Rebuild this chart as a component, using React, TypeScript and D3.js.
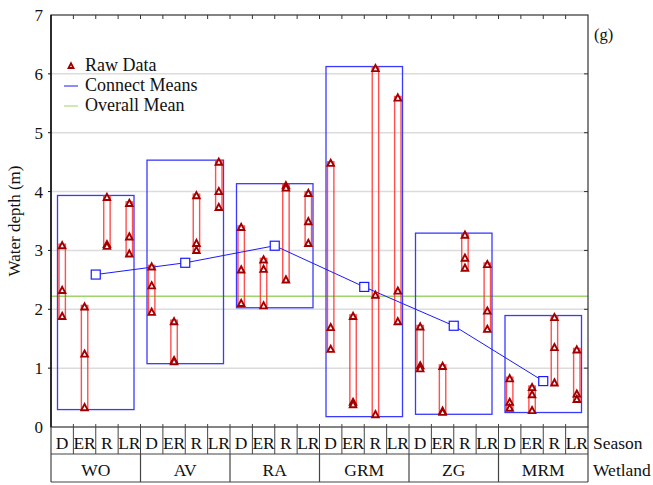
import React from "react";
import * as d3 from "d3";

const wetlands = ["WO", "AV", "RA", "GRM", "ZG", "MRM"];
const seasons = ["D", "ER", "R", "LR"];
// raw data per wetland, per season (3 values each)
const dataWO = [[3.08, 2.32, 1.88], [2.04, 1.24, 0.33], [3.9, 3.1, 3.07], [3.8, 3.23, 2.94]];
const dataAV = [[2.72, 2.4, 1.95], [1.79, 1.13, 1.11], [3.93, 3.12, 3.0], [4.5, 4.0, 3.73]];
const dataRA = [[3.39, 2.67, 2.1], [2.84, 2.68, 2.06], [4.1, 4.06, 2.5], [3.97, 3.49, 3.12]];
const dataGRM = [[4.48, 1.69, 1.32], [1.88, 0.42, 0.38], [6.09, 2.24, 0.21], [5.59, 2.31, 1.79]];
const dataZG = [[1.7, 1.04, 0.99], [1.03, 0.27, 0.25], [3.26, 2.87, 2.7], [2.76, 1.97, 1.66]];
const dataMRM = [[0.82, 0.42, 0.32], [0.67, 0.55, 0.28], [1.86, 1.35, 0.75], [1.31, 0.56, 0.47]];
const groupMeans = [2.59, 2.79, 3.08, 2.38, 1.72, 0.78];
const overallMean = 2.22;
const yTicks = [0, 1, 2, 3, 4, 5, 6, 7];

const allData = [dataWO, dataAV, dataRA, dataGRM, dataZG, dataMRM];

export default function App() {
  const W = 653, H = 485;
  const left = 51, right = 588, top = 15, bottom = 427;
  const y = d3.scaleLinear().domain([0, 7]).range([bottom, top]);
  const cols = wetlands.flatMap((w) => seasons.map((s) => `${w}-${s}`));
  const x = d3.scaleBand().domain(cols).range([left, right]).paddingInner(0).paddingOuter(0);
  const gx = d3.scaleBand().domain(wetlands).range([left, right]);
  const bw = x.bandwidth();
  const font = "Liberation Serif, Times New Roman, Times, DejaVu Serif, serif";
  const line = d3.line<[number, number]>().x((d) => d[0]).y((d) => d[1]);
  const meanPts: [number, number][] = wetlands.map((w, i) => [gx(w)! + gx.bandwidth() / 2, y(groupMeans[i])]);
  const tri = (cx: number, cy: number, s: number) =>
    `M${cx},${cy - s * 0.55}L${cx + s * 0.5},${cy + s * 0.4}L${cx - s * 0.5},${cy + s * 0.4}Z`;
  const txt = { fontFamily: font, fill: "#111" };

  return (
    <svg width={W} height={H} style={{ display: "block", position: "absolute", left: 0, top: 0, fontFamily: font }}>
      <rect x={0} y={0} width={W} height={H} fill="#fff" />
      {/* grid */}
      {yTicks.filter((t) => t > 0 && t < 7).map((t) => (
        <line key={t} x1={left} x2={right} y1={y(t)} y2={y(t)} stroke="#dcdcdc" strokeWidth={1.5} />
      ))}
      {/* overall mean */}
      <line x1={left} x2={right} y1={y(overallMean)} y2={y(overallMean)} stroke="#9fd36b" strokeWidth={1.5} />
      {/* group boxes */}
      {wetlands.map((w, i) => {
        const vals = allData[i].flat();
        const [mn, mx] = d3.extent(vals) as [number, number];
        const x0 = gx(w)! + 6.5;
        const x1 = gx(w)! + gx.bandwidth() - 6.5;
        return (
          <rect key={w} x={x0} y={y(mx) - 2} width={x1 - x0} height={y(mn) - y(mx) + 4}
            fill="none" stroke="#3a3aff" strokeWidth={1.3} />
        );
      })}
      {/* season rects */}
      {wetlands.map((w, i) =>
        seasons.map((s, j) => {
          const vals = allData[i][j];
          const [mn, mx] = d3.extent(vals) as [number, number];
          const cx = x(`${w}-${s}`)! + bw / 2;
          return (
            <rect key={`${w}-${s}`} x={cx - 3.2} y={y(mx) - 1.5} width={6.4} height={y(mn) - y(mx) + 3}
              fill="none" stroke="#ff3030" strokeWidth={1.4} strokeOpacity={0.85} />
          );
        })
      )}
      {/* mean line */}
      <path d={line(meanPts)!} fill="none" stroke="#1a1aff" strokeWidth={1} />
      {meanPts.map((p, i) => (
        <rect key={i} x={p[0] - 4.5} y={p[1] - 4.5} width={9} height={9} fill="#fff" stroke="#1a1aff" strokeWidth={1.2} />
      ))}
      {/* raw points */}
      {wetlands.map((w, i) =>
        seasons.map((s, j) =>
          allData[i][j].map((v, k) => {
            const cx = x(`${w}-${s}`)! + bw / 2;
            return (
              <path key={`${w}-${s}-${k}`} d={tri(cx, y(v), 6.5)} fill="#fff" stroke="#a00000" strokeWidth={1.9} strokeLinejoin="miter" />
            );
          })
        )
      )}
      {/* frame */}
      <rect x={left} y={top} width={right - left} height={bottom - top} fill="none" stroke="#333" strokeWidth={1.2} />
      <line x1={left} x2={left} y1={top} y2={bottom} stroke="#111" strokeWidth={1.5} />
      {/* top ticks */}
      {cols.slice(1).map((c) => (
        <line key={c} x1={x(c)} x2={x(c)} y1={top} y2={top + 4} stroke="#333" strokeWidth={1} />
      ))}
      {/* right & left ticks */}
      {yTicks.filter((t) => t > 0 && t < 7).map((t) => (
        <g key={t}>
          <line x1={right - 4} x2={right} y1={y(t)} y2={y(t)} stroke="#333" strokeWidth={1} />
          <line x1={left - 3} x2={left} y1={y(t)} y2={y(t)} stroke="#111" strokeWidth={1} />
        </g>
      ))}
      {/* y tick labels */}
      {yTicks.map((t) => (
        <text key={t} x={43} y={y(t)} dy="0.35em" textAnchor="end" fontSize={17} style={txt}>{t}</text>
      ))}
      <text transform={`translate(20,${(top + bottom) / 2}) rotate(-90)`} textAnchor="middle" fontSize={17} style={txt}>
        Water depth (m)
      </text>
      <text x={594} y={40} fontSize={16.5} style={txt}>(g)</text>
      {/* table */}
      <line x1={left} x2={right} y1={454} y2={454} stroke="#444" strokeWidth={1.2} />
      <line x1={left} x2={right} y1={482} y2={482} stroke="#444" strokeWidth={1.2} />
      <line x1={left} x2={left} y1={bottom} y2={482} stroke="#444" strokeWidth={1.2} />
      <line x1={right} x2={right} y1={bottom} y2={482} stroke="#444" strokeWidth={1.2} />
      {cols.slice(1).map((c) => (
        <line key={c} x1={x(c)} x2={x(c)} y1={bottom - 3} y2={454} stroke="#444" strokeWidth={1} />
      ))}
      {wetlands.slice(1).map((w) => (
        <line key={w} x1={gx(w)} x2={gx(w)} y1={454} y2={482} stroke="#444" strokeWidth={1.2} />
      ))}
      {cols.map((c, i) => (
        <text key={c} x={x(c)! + bw / 2} y={448.5} textAnchor="middle" fontSize={17.5} style={txt}>
          {seasons[i % 4]}
        </text>
      ))}
      {wetlands.map((w) => (
        <text key={w} x={gx(w)! + gx.bandwidth() / 2} y={476} textAnchor="middle" fontSize={17.5} style={txt}>{w}</text>
      ))}
      <text x={593} y={448.5} fontSize={17.5} style={txt}>Season</text>
      <text x={593} y={476} fontSize={17.5} style={txt}>Wetland</text>
      {/* legend */}
      <path d={tri(71, 66, 5)} fill="#fff" stroke="#a00000" strokeWidth={1.8} />
      <text x={85} y={71} fontSize={18} style={txt}>Raw Data</text>
      <line x1={64} x2={78} y1={86} y2={86} stroke="#1a1aff" strokeWidth={1} />
      <text x={85} y={91} fontSize={18} style={txt}>Connect Means</text>
      <line x1={64} x2={78} y1={106} y2={106} stroke="#9fd36b" strokeWidth={1} />
      <text x={85} y={111} fontSize={18} style={txt}>Overall Mean</text>
    </svg>
  );
}
